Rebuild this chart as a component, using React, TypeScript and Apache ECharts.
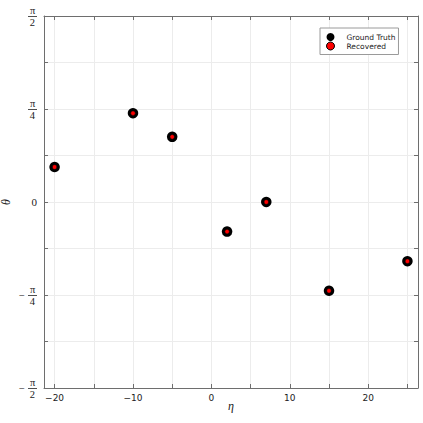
import React, { useEffect, useRef } from "react";
import * as echarts from "echarts";

const etaTruth = [-20, -10, -5, 2, 7, 15, 25];
const thetaTruth = [0.295, 0.75, 0.55, -0.25, 0, -0.75, -0.5];
const etaRecovered = [-20, -10, -5, 2, 7, 15, 25];
const thetaRecovered = [0.295, 0.75, 0.55, -0.25, 0, -0.75, -0.5];

const xTicks = [-20, -15, -10, -5, 0, 5, 10, 15, 20, 25];
const xTickLabels = [-20, -10, 0, 10, 20];
// y tick labels at multiples of π/8 (key = multiple of π/8)
const yTickLabels: Record<number, string> = {
  [-4]: "{n|π}\n{m|−}{g| }\n{d|2}",
  [-2]: "{n|π}\n{m|−}{g| }\n{d|4}",
  0: "{z|0}",
  2: "{n|π}\n{g| }\n{d|4}",
  4: "{n|π}\n{g| }\n{d|2}",
};
const fractionTicks = [-4, -2, 2, 4];

const X_MIN = -21.35;
const X_MAX = 26.35;
const Y_MIN = -Math.PI / 2;
const Y_MAX = Math.PI / 2;

const AXIS_COLOR = "#6e6e6e";
const GRID_COLOR = "#ececec";
const SERIF = "'Liberation Serif', 'DejaVu Serif', serif";
const SANS = "'DejaVu Sans', sans-serif";

export default function App() {
  const ref = useRef<HTMLDivElement>(null);
  useEffect(() => {
    if (!ref.current) return;
    const chart = echarts.init(ref.current, undefined, { renderer: "svg" });
    const tickStyle = { show: true, inside: true, length: 4, lineStyle: { color: AXIS_COLOR, width: 1 } };
    const lineStyle = { show: true, onZero: false, lineStyle: { color: AXIS_COLOR, width: 1 } };
    chart.setOption({
      animation: false,
      backgroundColor: "#ffffff",
      grid: { left: 44, right: 5, top: 16, bottom: 35, containLabel: false, outerBoundsMode: "none" },
      legend: {
        orient: "vertical",
        left: 320,
        top: 28,
        padding: [4.5, 3, 4, 6],
        itemWidth: 22,
        itemHeight: 8,
        itemGap: 0,
        backgroundColor: "#ffffff",
        borderColor: "#9a9a9a",
        borderWidth: 1,
        borderRadius: 0,
        textStyle: { fontFamily: SANS, fontSize: 7.5, color: "#222", lineHeight: 8, padding: [1, 0, 0, 0] },
        data: [
          { name: "Ground Truth", icon: "circle", itemStyle: { color: "#000" } },
          { name: "Recovered", icon: "circle", itemStyle: { color: "#ff0000", borderColor: "#000", borderWidth: 1 } },
        ],
      },
      xAxis: [
        {
          type: "value",
          min: X_MIN,
          max: X_MAX,
          position: "bottom",
          name: "η",
          nameLocation: "middle",
          nameGap: 12,
          nameMoveOverlap: false,
          nameTextStyle: { fontFamily: SERIF, fontStyle: "italic", fontSize: 12, color: "#222" },
          axisLine: lineStyle,
          axisTick: { ...tickStyle, customValues: xTicks },
          axisLabel: {
            customValues: xTickLabels,
            margin: 5,
            fontFamily: SANS,
            fontSize: 9,
            color: "#222",
            formatter: (v: number) => String(v).replace("-", "−"),
          },
          splitLine: { show: true, lineStyle: { color: GRID_COLOR, width: 1 } },
        },
        {
          type: "value",
          min: X_MIN,
          max: X_MAX,
          position: "top",
          axisLine: lineStyle,
          axisTick: { ...tickStyle, customValues: xTicks },
          axisLabel: { show: false },
          splitLine: { show: false },
        },
      ],
      yAxis: [
        {
          type: "value",
          min: Y_MIN,
          max: Y_MAX,
          interval: Math.PI / 8,
          position: "left",
          name: "θ",
          nameLocation: "middle",
          nameGap: 32,
          nameRotate: 90,
          nameMoveOverlap: false,
          nameTextStyle: { fontFamily: SERIF, fontStyle: "italic", fontSize: 12, color: "#222" },
          axisLine: lineStyle,
          axisTick: tickStyle,
          axisLabel: {
            margin: 7,
            color: "#222",
            formatter: (v: number) => {
              const k = Math.round(v / (Math.PI / 8));
              return yTickLabels[k] ?? "";
            },
            rich: {
              n: { fontFamily: SERIF, fontSize: 10.5, lineHeight: 11, color: "#222", padding: [0, 1.7, 0, 0] },
              d: { fontFamily: SERIF, fontSize: 10.5, lineHeight: 11, color: "#222", padding: [0, 1.9, 0, 0] },
              m: { fontFamily: SERIF, fontSize: 10.5, lineHeight: 1, color: "#222" },
              g: { width: 12, fontSize: 1, lineHeight: 1 },
              z: { fontFamily: SERIF, fontSize: 11, color: "#222" },
            },
          },
          splitLine: { show: true, lineStyle: { color: GRID_COLOR, width: 1 } },
        },
        {
          type: "value",
          min: Y_MIN,
          max: Y_MAX,
          interval: Math.PI / 8,
          position: "right",
          axisLine: lineStyle,
          axisTick: tickStyle,
          axisLabel: { show: false },
          splitLine: { show: false },
        },
      ],
      series: [
        {
          name: "Ground Truth",
          type: "scatter",
          symbol: "circle",
          symbolSize: 10.5,
          itemStyle: { color: "#000", opacity: 1 },
          data: etaTruth.map((e, i) => [e, thetaTruth[i]]),
          z: 2,
        },
        {
          name: "Recovered",
          type: "scatter",
          symbol: "circle",
          symbolSize: 4.5,
          itemStyle: { color: "#ff0000", borderColor: "#000", borderWidth: 0.5, opacity: 1 },
          data: etaRecovered.map((e, i) => [e, thetaRecovered[i]]),
          z: 3,
        },
      ],
    });
    // fraction bars of the π/k tick labels, placed from the axis scale
    const axisX = chart.convertToPixel({ xAxisIndex: 0 }, X_MIN) as number;
    const barRight = axisX - 7;
    const bars = fractionTicks.map((k) => {
      const y = Math.round(chart.convertToPixel({ yAxisIndex: 0 }, (k * Math.PI) / 8) as number) + 0.5;
      return {
        type: "line",
        silent: true,
        shape: { x1: barRight - 9, y1: y, x2: barRight, y2: y },
        style: { stroke: "#222", lineWidth: 0.8 },
      };
    });
    chart.setOption({ graphic: bars });
    return () => chart.dispose();
  }, []);
  return <div ref={ref} style={{ width: 423, height: 423, position: "absolute", left: 0, top: 0 }} />;
}
